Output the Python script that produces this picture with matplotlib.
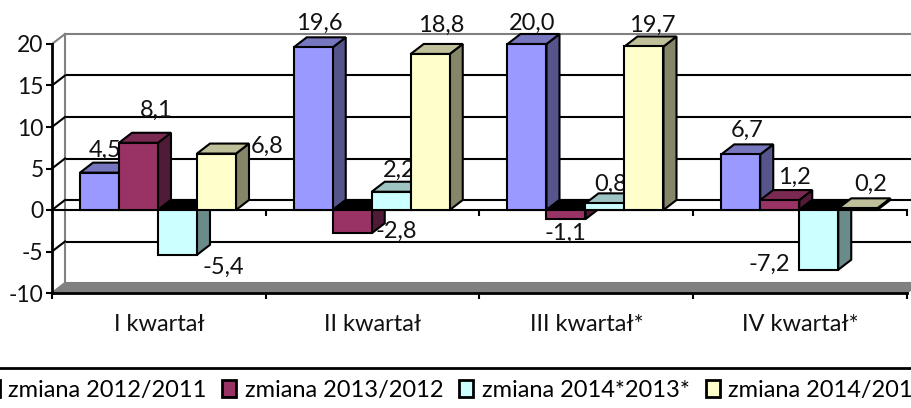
import matplotlib
matplotlib.use('Agg')
import matplotlib.pyplot as plt
from matplotlib.patches import Patch

plt.rcParams['font.family'] = ['Lato', 'DejaVu Sans']

categories = ['I kwartał', 'II kwartał', 'III kwartał*', 'IV kwartał*']
series_names = ['zmiana 2012/2011', 'zmiana 2013/2012', 'zmiana 2014*2013*', 'zmiana 2014/2013']
zmiana_2012 = [4.5, 19.6, 20.0, 6.7]
zmiana_2013 = [8.1, -2.8, -1.1, 1.2]
zmiana_2014_gw = [-5.4, 2.2, 0.8, -7.2]
zmiana_2014 = [6.8, 18.8, 19.7, 0.2]
yticks = [-10, -5, 0, 5, 10, 15, 20]

front_cols = ['#9999FF', '#993366', '#CCFFFF', '#FFFFCC']
side_cols = ['#55558B', '#4F1B36', '#6B8A8A', '#85856A']
top_cols = ['#7777BF', '#7A2A52', '#9FC4C4', '#BFBF99']

# label shift from the bar top, in pixels
label_dx = [[5.5, 6, 5, 6], [17.5, 43.75, -1, 15], [45.5, 8, 6, -49], [50.5, 11, 8, 13]]
label_dy = [[23.6, 25, 22, 25], [33, 3, -13, 24], [-12, 22, 20, 6], [8.6, 30, 22.5, 25]]

px = 72 / 100
fig = plt.figure(figsize=(9.12, 4.08), dpi=100)
ax = fig.add_axes([52 / 912, 115 / 408, 855 / 912, 249 / 408])
ax.set_xlim(0, 4)
ax.set_ylim(-10, 20)
ax.patch.set_visible(False)

# depth of the fake 3d box
dx = 13 / 213.75
dy = 10 / 8.3
bar_w = 39 / 213.75
start = 28 / 213.75
lw = 1.5

# back wall, floor and left wall
ax.fill([0, dx, 4 + dx, 4], [-10, -10 + dy, -10 + dy, -10], color='#808080', zorder=1, clip_on=False)
for t in yticks:
    c = '#808080' if t in (20, -10) else 'black'
    ax.plot([dx, 4 + dx], [t + dy, t + dy], color=c, lw=lw, zorder=1, clip_on=False)
    ax.plot([0, dx], [t, t + dy], color=c, lw=lw, zorder=1.2, clip_on=False)
ax.plot([dx, dx], [-10 + dy, 20 + dy], color='#808080', lw=lw, zorder=1.1, clip_on=False)

# zero plane with its ticks
ax.plot([0, 4], [0, 0], color='black', lw=lw, zorder=2, clip_on=False)
ax.vlines(range(1, 5), -0.72, 0, color='black', lw=lw, zorder=2, clip_on=False)

all_series = [zmiana_2012, zmiana_2013, zmiana_2014_gw, zmiana_2014]
for s, vals in enumerate(all_series):
    z = 3 + s
    for c, v in enumerate(vals):
        x0 = c + start + s * bar_w
        x1 = x0 + bar_w
        ax.bar(x0, v, bar_w, align='edge', color=front_cols[s], edgecolor='black', lw=lw, zorder=z + 0.2, clip_on=False)
        ax.fill([x1, x1 + dx, x1 + dx, x1], [0, dy, v + dy, v], facecolor=side_cols[s], edgecolor='black', lw=lw, zorder=z, clip_on=False)
        top = max(v, 0)
        top_col = 'black' if v < 0 else top_cols[s]
        ax.fill([x0, x1, x1 + dx, x0 + dx], [top, top, top + dy, top + dy], facecolor=top_col, edgecolor='black', lw=lw, zorder=z + 0.1, clip_on=False)
        ax.annotate(f'{v:.1f}'.replace('.', ','), (x0 + bar_w / 2, v),
                    xytext=(label_dx[s][c] * px, (label_dy[s][c] - 1) * px), textcoords='offset points',
                    ha='center', va='center', fontsize=17, color='#111111', zorder=z + 0.5, annotation_clip=False)

# axes
for side in ['top', 'right']:
    ax.spines[side].set_visible(False)
for side in ['left', 'bottom']:
    ax.spines[side].set_linewidth(2)
    ax.spines[side].set_zorder(2.5)
ax.set_yticks(yticks)
ax.set_yticklabels([str(t) for t in yticks], fontsize=16.5, color='#111111', va='center_baseline')
ax.set_xticks(range(5))
ax.set_xticklabels([])
ax.set_xticks([i + 0.5 for i in range(4)], minor=True)
ax.set_xticklabels(categories, minor=True, fontsize=17, color='#111111')
ax.tick_params(axis='x', which='major', length=4, width=1.5)
ax.tick_params(axis='x', which='minor', length=0, pad=15)
ax.tick_params(axis='y', length=4, width=1.5, pad=2)

# legend box top edge runs across the whole picture
fig.add_artist(plt.Line2D([0, 1], [1 - 368 / 408, 1 - 368 / 408], color='black', lw=2))
handles = [Patch(facecolor=front_cols[i], edgecolor='black', lw=2) for i in range(4)]
leg = fig.legend(handles, series_names, ncol=4, loc='upper center', bbox_to_anchor=(0.5, 1 - 375 / 408),
                 fontsize=17, frameon=False, columnspacing=0.68, handlelength=0.6, handleheight=0.75,
                 handletextpad=0.35, borderaxespad=0, borderpad=0.2)

fig.savefig('out.png', dpi=100)
